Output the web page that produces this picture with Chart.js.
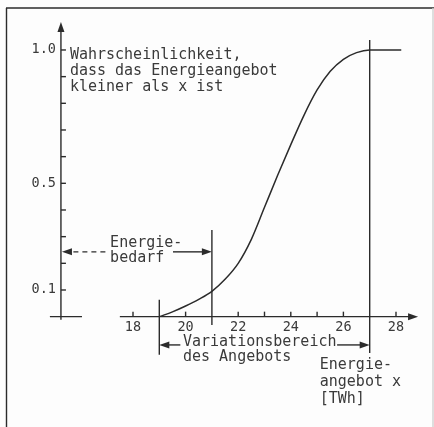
<!DOCTYPE html>
<html>
<head>
<meta charset="utf-8">
<script src="https://cdn.jsdelivr.net/npm/chart.js@4/dist/chart.umd.min.js"></script>
<style>
  html, body { margin: 0; padding: 0; background: #fdfdfd; }
  canvas { display: block; }
</style>
</head>
<body>
<canvas id="chart" width="434" height="427"></canvas>
<script>
// Energieangebot x [TWh] and probability that the supply is smaller than x
const supplyTWh   = [19, 19.5, 20, 20.5, 21, 21.5, 22, 22.5, 23, 23.5, 24, 24.5, 25, 25.5, 26, 26.5, 27, 28.2];
const probability = [0, 0.018, 0.04, 0.065, 0.095, 0.14, 0.2, 0.29, 0.41, 0.53, 0.645, 0.755, 0.85, 0.92, 0.965, 0.99, 1.0, 1.0];

const xTicks      = [18, 19, 20, 21, 22, 23, 24, 25, 26, 27, 28];
const xTickLabels = [18, 20, 22, 24, 26, 28];
const yTicks      = [0.1, 0.2, 0.3, 0.4, 0.5, 0.6, 0.7, 0.8, 0.9, 1.0];
const yTickLabels = [0.1, 0.5, 1.0];

const demand = 21;       // Energiebedarf
const rangeFrom = 19;    // Variationsbereich des Angebots
const rangeTo = 27;

const ink = '#2b2b2b';
const textInk = '#3a3a3a';
const font = '"DejaVu Sans Mono", "Liberation Mono", monospace';

function arrowHead(ctx, x1, y1, x2, y2) {
  const a = Math.atan2(y2 - y1, x2 - x1);
  const len = 10, w = 3.5;
  ctx.beginPath();
  ctx.moveTo(x2, y2);
  ctx.lineTo(x2 - len * Math.cos(a) + w * Math.sin(a), y2 - len * Math.sin(a) - w * Math.cos(a));
  ctx.lineTo(x2 - len * Math.cos(a) - w * Math.sin(a), y2 - len * Math.sin(a) + w * Math.cos(a));
  ctx.closePath();
  ctx.fill();
}

function line(ctx, x1, y1, x2, y2) {
  ctx.beginPath();
  ctx.moveTo(x1, y1);
  ctx.lineTo(x2, y2);
  ctx.stroke();
}

const drawing = {
  id: 'drawing',
  afterDatasetsDraw(chart) {
    const { ctx } = chart;
    const X = v => chart.scales.x.getPixelForValue(v);
    const Y = v => chart.scales.y.getPixelForValue(v);
    ctx.save();
    ctx.strokeStyle = ink;
    ctx.fillStyle = ink;
    ctx.lineWidth = 1.4;

    // frame
    line(ctx, 6.5, 8, 6.5, 427);
    line(ctx, 6, 8, 434, 8);
    ctx.strokeStyle = '#d0d0d0';
    line(ctx, 433, 8, 433, 427);
    ctx.strokeStyle = ink;

    // y axis with arrow
    const yAxisX = X(15.26);
    line(ctx, yAxisX, Y(-0.012), yAxisX, Y(1.08));
    arrowHead(ctx, yAxisX, Y(1.0), yAxisX, Y(1.105));
    yTicks.forEach(t => line(ctx, yAxisX, Y(t), yAxisX + 5, Y(t)));
    line(ctx, X(14.84), Y(0), X(16.06), Y(0));

    // x axis with arrow
    line(ctx, X(17.5), Y(0), X(28.5), Y(0));
    arrowHead(ctx, X(28), Y(0), X(28.84), Y(0));
    xTicks.forEach(t => {
      if (t === rangeFrom || t === demand || t === rangeTo) return;
      line(ctx, X(t), Y(0), X(t), Y(0) - 5);
    });

    // vertical markers
    line(ctx, X(demand), Y(0.325), X(demand), Y(-0.031));
    line(ctx, X(rangeFrom), Y(0.063), X(rangeFrom), Y(-0.143));
    line(ctx, X(rangeTo), Y(1.037), X(rangeTo), Y(-0.136));

    // Energiebedarf arrows
    const by = Y(0.243);
    ctx.setLineDash([5, 4]);
    line(ctx, X(16.95), by, yAxisX + 8, by);
    ctx.setLineDash([]);
    arrowHead(ctx, yAxisX + 10, by, yAxisX + 1, by);
    line(ctx, X(19.52), by, X(demand) - 8, by);
    arrowHead(ctx, X(20.5), by, X(demand), by);

    // Variationsbereich arrows
    const vy = Y(-0.106);
    line(ctx, X(rangeFrom) + 8, vy, X(19.8), vy);
    arrowHead(ctx, X(19.8), vy, X(rangeFrom), vy);
    line(ctx, X(25.76), vy, X(rangeTo) - 8, vy);
    arrowHead(ctx, X(26.5), vy, X(rangeTo), vy);

    // tick labels
    ctx.fillStyle = textInk;
    ctx.font = '13.5px ' + font;
    ctx.textBaseline = 'middle';
    ctx.textAlign = 'center';
    xTickLabels.forEach(t => ctx.fillText(String(t), X(t), Y(0) + 11));
    ctx.textAlign = 'right';
    yTickLabels.forEach(t => ctx.fillText(t.toFixed(1), yAxisX - 5, Y(t)));

    // annotation texts
    ctx.font = '15px ' + font;
    ctx.textAlign = 'left';
    const texts = [
      ['Wahrscheinlichkeit,', 15.6, 0.982],
      ['dass das Energieangebot', 15.6, 0.922],
      ['kleiner als x ist', 15.6, 0.862],
      ['Energie-', 17.13, 0.276],
      ['bedarf', 17.13, 0.218],
      ['Variationsbereich', 19.9, -0.095],
      ['des Angebots', 19.9, -0.151],
      ['Energie-', 25.1, -0.181],
      ['angebot x', 25.1, -0.245],
      ['[TWh]', 25.1, -0.309]
    ];
    texts.forEach(([s, x, y]) => ctx.fillText(s, X(x), Y(y)));
    ctx.restore();
  }
};

new Chart(document.getElementById('chart'), {
  type: 'line',
  data: {
    datasets: [{
      data: supplyTWh.map((x, i) => ({ x, y: probability[i] })),
      borderColor: ink,
      borderWidth: 1.5,
      pointRadius: 0,
      cubicInterpolationMode: 'monotone',
      fill: false,
      clip: false
    }]
  },
  options: {
    responsive: false,
    animation: false,
    devicePixelRatio: 1,
    layout: { padding: { left: 80.4, right: 11.7, top: 23.3, bottom: 57 } },
    plugins: { legend: { display: false }, tooltip: { enabled: false } },
    scales: {
      x: { type: 'linear', min: 16, max: 29, display: false },
      y: { type: 'linear', min: -0.2, max: 1.1, display: false }
    }
  },
  plugins: [drawing]
});
</script>
</body>
</html>
